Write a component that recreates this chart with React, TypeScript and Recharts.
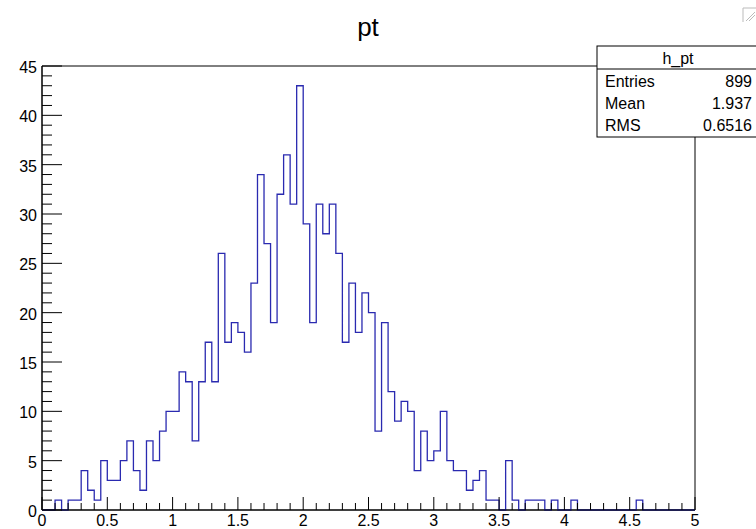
import React from "react";
import { ComposedChart, Line, XAxis, YAxis, ReferenceArea } from "recharts";

// bin contents of h_pt, 100 bins of width 0.05 from 0 to 5
const counts = [
  0, 0, 1, 0, 1, 1, 4, 2, 1, 5,
  3, 3, 5, 7, 4, 2, 7, 5, 8, 10,
  10, 14, 13, 7, 13, 17, 13, 26, 17, 19,
  18, 16, 23, 34, 27, 19, 32, 36, 31, 43,
  29, 19, 31, 28, 31, 26, 17, 23, 18, 22,
  20, 8, 19, 12, 9, 11, 10, 4, 8, 5,
  6, 10, 5, 4, 4, 2, 3, 4, 1, 1,
  0, 5, 1, 0, 1, 1, 1, 0, 1, 0,
  0, 1, 0, 0, 0, 0, 0, 0, 0, 0,
  0, 1, 0, 0, 0, 0, 0, 0, 0, 0,
];
const binWidth = 0.05;

const xTicks = Array.from({ length: 51 }, (_, i) => i / 10);
const yTicks = Array.from({ length: 46 }, (_, i) => i);

const statsTitle = "h_pt";
const statsRows = [
  ["Entries", "899"],
  ["Mean", "1.937"],
  ["RMS", "0.6516"],
];

const data = counts
  .map((n, i) => ({ x: i * binWidth, n }))
  .concat([{ x: counts.length * binWidth, n: counts[counts.length - 1] }]);

const FONT = "'Liberation Sans', Arial, Helvetica, sans-serif";

function XTick(props: any) {
  const { x, y, payload } = props;
  const v = payload.value;
  const major = Math.abs(v * 2 - Math.round(v * 2)) < 1e-6;
  return (
    <g>
      <line x1={x} y1={y} x2={x} y2={y - (major ? 13 : 7)} stroke="#000" strokeWidth={1} />
      {major && (
        <text x={x} y={y + 16} textAnchor="middle" fontSize={16} fontFamily={FONT} fill="#000">
          {String(Math.round(v * 10) / 10)}
        </text>
      )}
    </g>
  );
}

function YTick(props: any) {
  const { x, y, payload } = props;
  const v = payload.value;
  const major = v % 5 === 0;
  return (
    <g>
      <line x1={x} y1={y} x2={x + (major ? 20 : 10)} y2={y} stroke="#000" strokeWidth={1} />
      {major && (
        <text x={x - 5} y={y + 7} textAnchor="end" fontSize={16} fontFamily={FONT} fill="#000">
          {v}
        </text>
      )}
    </g>
  );
}

export default function App() {
  return (
    <div style={{ position: "absolute", left: 0, top: 0, width: 756, height: 529, background: "#fff" }}>
      <ComposedChart
        width={756}
        height={529}
        data={data}
        margin={{ top: 66, right: 61, bottom: 0, left: 0 }}
      >
        <XAxis
          type="number"
          dataKey="x"
          domain={[0, 5]}
          ticks={xTicks}
          interval={0}
          tickSize={0}
          tickMargin={0}
          height={19}
          axisLine={{ stroke: "#000" }}
          tick={(p: any) => <XTick {...p} />}
        />
        <YAxis
          type="number"
          domain={[0, 45]}
          ticks={yTicks}
          interval={0}
          tickSize={0}
          tickMargin={0}
          width={42}
          axisLine={{ stroke: "#000" }}
          tick={(p: any) => <YTick {...p} />}
        />
        <ReferenceArea x1={0} x2={5} y1={0} y2={45} fill="none" fillOpacity={0} stroke="#000" strokeWidth={1} />
        <Line
          type="stepAfter"
          dataKey="n"
          stroke="#2a2ab0"
          strokeWidth={1.3}
          dot={false}
          isAnimationActive={false}
        />
      </ComposedChart>
      <svg width={756} height={529} style={{ position: "absolute", left: 0, top: 0, pointerEvents: "none" }}>
        <text x={368} y={36} textAnchor="middle" fontSize={26} fontFamily={FONT} fill="#000">
          pt
        </text>
        <rect x={597} y={46} width={170} height={91} fill="#fff" stroke="#000" strokeWidth={1} />
        <line x1={597} y1={69} x2={756} y2={69} stroke="#000" strokeWidth={1} />
        <text x={678} y={64} textAnchor="middle" fontSize={16} fontFamily={FONT} fill="#000">
          {statsTitle}
        </text>
        {statsRows.map((r, i) => (
          <g key={r[0]}>
            <text x={605} y={87 + i * 22} fontSize={16} fontFamily={FONT} fill="#000">
              {r[0]}
            </text>
            <text x={752} y={87 + i * 22} textAnchor="end" fontSize={16} fontFamily={FONT} fill="#000">
              {r[1]}
            </text>
          </g>
        ))}
        <g stroke="#bbb" strokeWidth={1} fill="none">
          <polyline points="743,22 743,8 756,8" />
          <line x1={746} y1={21} x2={755} y2={12} />
          <line x1={749} y1={21} x2={755} y2={15} />
        </g>
      </svg>
    </div>
  );
}
